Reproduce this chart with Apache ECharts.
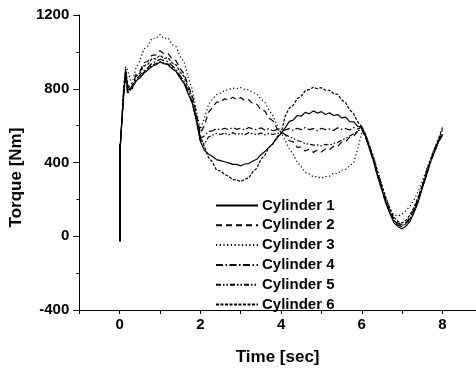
<!DOCTYPE html>
<html>
<head>
<meta charset="utf-8">
<script src="https://cdn.jsdelivr.net/npm/echarts@6/dist/echarts.min.js"></script>
<style>
  html, body { margin: 0; padding: 0; background: #fff; }
  #chart { width: 476px; height: 371px; }
</style>
</head>
<body>
<div id="chart"></div>
<script>
// time stamps [sec]
const time = [0, 0.01, 0.02, 0.1, 0.15,
  0.2, 0.3, 0.4, 0.5, 0.6, 0.7, 0.8, 0.9, 1.0, 1.1, 1.2, 1.3, 1.4, 1.5, 1.6, 1.7, 1.8, 1.9, 2.0,
  2.1, 2.2, 2.3, 2.4, 2.5, 2.6, 2.7, 2.8, 2.9, 3.0, 3.1, 3.2, 3.3, 3.4, 3.5, 3.6, 3.7, 3.8, 3.9, 4.0,
  4.1, 4.2, 4.3, 4.4, 4.5, 4.6, 4.7, 4.8, 4.9, 5.0, 5.1, 5.2, 5.3, 5.4, 5.5, 5.6, 5.7, 5.8, 5.9, 6.0,
  6.1, 6.2, 6.3, 6.4, 6.5, 6.6, 6.7, 6.8, 6.9, 7.0, 7.1, 7.2, 7.3, 7.4, 7.5, 7.6, 7.7, 7.8, 7.9, 8.0]

// torque per cylinder [Nm]
const cyl1 = [500, -30, 505, 760, 900,
  790, 805, 842, 858, 884, 902, 921, 930, 944, 936, 930, 908, 893, 858, 828, 772, 722, 628, 515,
  466, 446, 432, 416, 410, 404, 398, 390, 390, 382, 392, 394, 408, 418, 442, 460, 482, 504, 532, 558,
  588, 622, 630, 655, 652, 672, 664, 680, 668, 676, 660, 670, 655, 660, 642, 646, 622, 620, 596, 592,
  540, 468, 402, 318, 252, 176, 122, 72, 52, 40, 56, 82, 132, 186, 262, 326, 402, 456, 512, 548]
const cyl2 = [490, -20, 500, 780, 880,
  810, 790, 876, 894, 941, 949, 981, 984, 1006, 990, 991, 962, 951, 909, 881, 816, 766, 664, 560,
  600, 672, 698, 728, 726, 746, 738, 754, 741, 752, 736, 741, 718, 716, 686, 679, 640, 626, 584, 566,
  552, 518, 512, 482, 484, 462, 472, 455, 468, 457, 474, 468, 488, 486, 510, 512, 538, 543, 570, 580,
  530, 480, 410, 335, 262, 195, 135, 92, 70, 62, 74, 105, 150, 205, 272, 340, 408, 468, 520, 560]
const cyl3 = [480, -25, 495, 800, 920,
  900, 820, 910, 952, 1014, 1032, 1074, 1074, 1094, 1072, 1076, 1040, 1028, 976, 944, 860, 798, 682, 580,
  640, 712, 744, 768, 776, 792, 794, 804, 800, 806, 796, 794, 780, 772, 744, 726, 686, 654, 602, 562,
  522, 476, 444, 402, 378, 346, 338, 322, 324, 314, 324, 326, 342, 339, 358, 362, 384, 398, 474, 562,
  548, 488, 425, 350, 280, 210, 150, 115, 110, 120, 140, 165, 200, 245, 300, 360, 420, 480, 530, 575]
const cyl4 = [500, -28, 510, 770, 860,
  770, 815, 850, 872, 898, 915, 938, 948, 960, 952, 948, 925, 905, 870, 838, 785, 730, 640, 530,
  545, 568, 572, 584, 576, 586, 578, 590, 580, 586, 576, 590, 582, 578, 588, 576, 584, 572, 578, 566,
  576, 584, 574, 586, 578, 590, 578, 584, 572, 586, 578, 582, 574, 588, 580, 584, 576, 590, 582, 592,
  545, 475, 405, 325, 255, 185, 128, 82, 60, 52, 66, 95, 140, 198, 268, 338, 405, 462, 515, 555]
const cyl5 = [495, -22, 500, 790, 890,
  780, 800, 838, 865, 890, 908, 928, 936, 948, 940, 934, 915, 896, 862, 832, 778, 722, 630, 520,
  500, 538, 548, 558, 552, 560, 550, 562, 552, 558, 550, 562, 556, 552, 560, 550, 558, 552, 560, 558,
  552, 540, 532, 518, 514, 502, 500, 494, 496, 490, 498, 494, 504, 508, 522, 530, 544, 556, 570, 585,
  536, 470, 396, 320, 248, 178, 125, 85, 65, 58, 72, 100, 145, 200, 266, 332, 398, 458, 512, 552]
const cyl6 = [485, -26, 505, 810, 910,
  820, 800, 866, 884, 924, 932, 964, 962, 982, 964, 968, 940, 930, 890, 866, 800, 754, 650, 545,
  486, 428, 402, 358, 354, 336, 326, 307, 306, 296, 310, 316, 350, 368, 418, 440, 482, 500, 540, 558,
  650, 694, 710, 746, 760, 790, 795, 808, 800, 806, 792, 792, 774, 770, 740, 724, 686, 664, 620, 594,
  550, 485, 420, 345, 272, 205, 145, 102, 80, 72, 88, 118, 160, 215, 280, 350, 415, 472, 525, 590]

const names = ['Cylinder 1', 'Cylinder 2', 'Cylinder 3', 'Cylinder 4', 'Cylinder 5', 'Cylinder 6']
const values = [cyl1, cyl2, cyl3, cyl4, cyl5, cyl6]
// solid, dash, dot, dash-dot, dash-dot-dot, short dash
const dashes = ['solid', [6, 4], [1.2, 2.5], [7, 2.5, 1.5, 2.5], [5, 2, 1.5, 2, 1.5, 2], [3, 1.5]]

const font = 'Arial, "Liberation Sans", sans-serif'

let myChart = echarts.init(document.getElementById('chart'))
const option = {
  animation: false,
  backgroundColor: '#fff',
  grid: { left: 78, right: 0, top: 15, bottom: 59 },
  legend: {
    orient: 'vertical',
    left: 215,
    top: 198,
    itemWidth: 42,
    itemHeight: 14,
    itemGap: 4.8,
    padding: 0,
    data: names,
    // hide the marker dot, keep only the line sample
    itemStyle: { color: 'transparent', borderColor: 'transparent', borderWidth: 0, opacity: 0 },
    textStyle: { color: '#000', fontSize: 15, fontWeight: 'bold', fontFamily: font, padding: [0, 0, 0, -1] }
  },
  xAxis: {
    type: 'value',
    min: -1,
    max: 8.83,
    interval: 1,
    name: 'Time [sec]',
    nameLocation: 'middle',
    nameGap: 39,
    nameTextStyle: { color: '#000', fontSize: 17, fontWeight: 'bold', fontFamily: font },
    axisLine: { show: true, onZero: false, lineStyle: { color: '#000', width: 1 } },
    axisTick: { show: true, length: 4, lineStyle: { color: '#000' } },
    axisLabel: {
      color: '#000', fontSize: 15, fontWeight: 'bold', fontFamily: font, margin: 7,
      showMaxLabel: false,
      formatter: function (v) { return (v >= 0 && v % 2 === 0) ? String(v) : '' }
    },
    splitLine: { show: false }
  },
  yAxis: {
    type: 'value',
    min: -400,
    max: 1200,
    interval: 400,
    name: 'Torque [Nm]',
    nameLocation: 'middle',
    nameGap: 51,
    nameTextStyle: { color: '#000', fontSize: 17, fontWeight: 'bold', fontFamily: font, padding: [0, 30, 0, 0] },
    axisLine: { show: true, onZero: false, lineStyle: { color: '#000', width: 1 } },
    axisTick: { show: true, length: 6, lineStyle: { color: '#000' } },
    minorTick: { show: true, splitNumber: 2, length: 3, lineStyle: { color: '#000' } },
    axisLabel: {
      color: '#000', fontSize: 15, fontWeight: 'bold', fontFamily: font, margin: 10,
      formatter: function (v) { return String(v) }
    },
    splitLine: { show: false }
  },
  series: names.map((n, k) => ({
    name: n,
    type: 'line',
    symbol: 'none',
    data: time.map((t, i) => [t, values[k][i]]),
    lineStyle: { color: '#000', width: 1.2, type: dashes[k] },
    itemStyle: { color: '#000' }
  }))
}
myChart.setOption(option)
</script>
</body>
</html>
